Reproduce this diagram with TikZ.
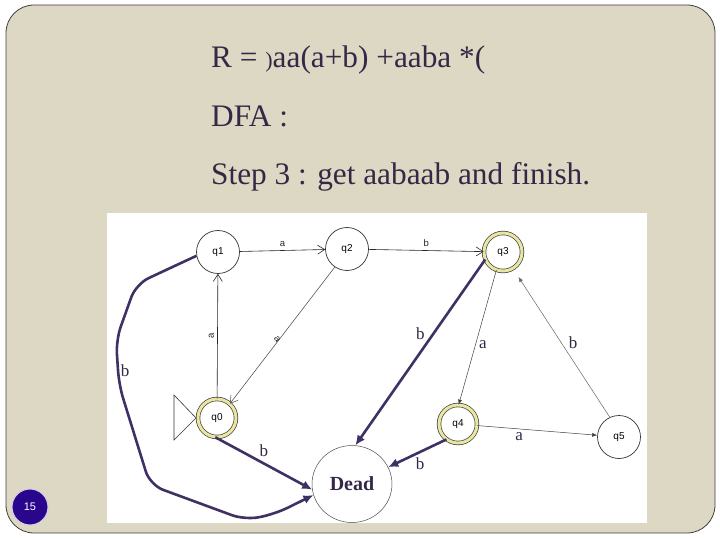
\documentclass[tikz,border=0pt]{standalone}
\usepackage{fontspec}
\setmainfont{Liberation Serif}
\newfontfamily\lsans{Liberation Sans}
\usetikzlibrary{arrows.meta,shapes.geometric}
\definecolor{slidebg}{RGB}{221,216,195}
\definecolor{txt}{RGB}{52,40,70}
\definecolor{thick}{RGB}{63,49,99}
\definecolor{ring}{RGB}{232,230,160}
\definecolor{badge}{RGB}{42,6,140}
\tikzset{
  st/.style={circle,draw=black!80,line width=0.7pt,fill=white,minimum size=43pt,inner sep=0pt,font=\lsans\fontsize{10}{11}\selectfont},
  acc/.style={circle,draw=black!75,line width=0.7pt,double=ring,double distance=3pt,fill=white,minimum size=38pt,inner sep=0pt,font=\lsans\fontsize{10}{11}\selectfont},
  deadst/.style={ellipse,draw=black!70,line width=0.5pt,fill=white,minimum width=80pt,minimum height=77pt,inner sep=0pt,font=\bfseries\fontsize{20}{22}\selectfont,text=txt},
  thinopen/.style={draw=black!85,line width=0.6pt,-{Straight Barb[length=7pt,width=9pt]}},
  thinsolid/.style={draw=black!75,line width=0.5pt,-{Latex[length=5pt,width=4pt]}},
  thickedge/.style={draw=thick,line width=2.6pt,-{Latex[length=10pt,width=9pt]}},
  smalllab/.style={font=\lsans\fontsize{9.5}{10}\selectfont,text=black!85},
  serlab/.style={font=\fontsize{17}{18}\selectfont,text=txt},
  title/.style={anchor=base west,font=\fontsize{31.3}{33}\selectfont,text=txt,inner sep=0pt}
}
\begin{document}
\begin{tikzpicture}[x=1pt,y=-1pt]
\useasboundingbox (0,0) rectangle (720,540);
\fill[white] (0,0) rectangle (720,540);
\draw[fill=slidebg,draw=black!75,line width=0.8pt,rounded corners=28pt] (6,5) rectangle (715,533);
\node[title] (t1) at (211,68) {R = {\fontsize{22}{24}\selectfont)}aa(a+b) +aaba *(};
\node[title] (t2) at (211,127) {DFA :};
\node[title] (t3) at (211,185) {Step 3 : get aabaab and finish.};
\fill[white] (107,213) rectangle (647,523);
% start triangle
\draw[black!80,line width=0.6pt] (174,395) -- (196,418) -- (174,440) -- cycle;
% nodes
\node[st] (q1) at (218,252) {q1};
\node[st] (q2) at (347,249) {q2};
\node[acc] (q3) at (503,252) {q3};
\node[acc] (q0) at (217,418) {q0};
\node[acc] (q4) at (458,424) {q4};
\node[st] (q5) at (619,437) {q5};
\node[deadst] (D) at (352,484) {Dead};
% thin edges
\draw[thinopen] (q1) -- node[smalllab,above,pos=0.5] {a} (q2);
\draw[thinopen] (q2) -- node[smalllab,above,pos=0.5] {b} (q3);
\draw[thinopen] (q0) -- node[smalllab,left,pos=0.5,rotate=90,anchor=south] {a} (q1);
\draw[thinopen,draw=black!65] (q2.236) -- node[smalllab,right,pos=0.5,rotate=-55,anchor=north] {a} (q0.48);
\draw[thinsolid] (q3.250) -- node[serlab,right,pos=0.55] {a} (q4.88);
\draw[thinsolid,draw=black!60,shorten >=10pt] (q5.115) -- node[serlab,right,pos=0.5,xshift=4pt] {b} (q3.301);
\draw[thinsolid] (q4) -- node[serlab,below,pos=0.35] {a} (q5);
% thick edges
\draw[thickedge] (q3.203) -- node[serlab,left,pos=0.4,xshift=-4pt] {b} (D.85);
\draw[thickedge] (q4.233) -- node[serlab,below,pos=0.45,yshift=-1pt] {b} (D.25);
\draw[thickedge] (q0.265) -- node[serlab,above right,pos=0.45,xshift=-4pt] {b} (D.188);
\draw[thickedge,rounded corners=14pt] (q1.190) -- (136,284) -- (116,340) -- (119,385) -- (150,485) -- (245,520) -- (275,514) -- (D.196);
\node[serlab] (lb) at (125,371) {b};
% slide number
\node[circle,fill=badge,draw=white!80!badge,line width=1pt,minimum size=36pt,inner sep=0pt,text=white,font=\lsans\fontsize{11}{12}\selectfont] (num) at (30,507) {15};
\end{tikzpicture}
\end{document}
